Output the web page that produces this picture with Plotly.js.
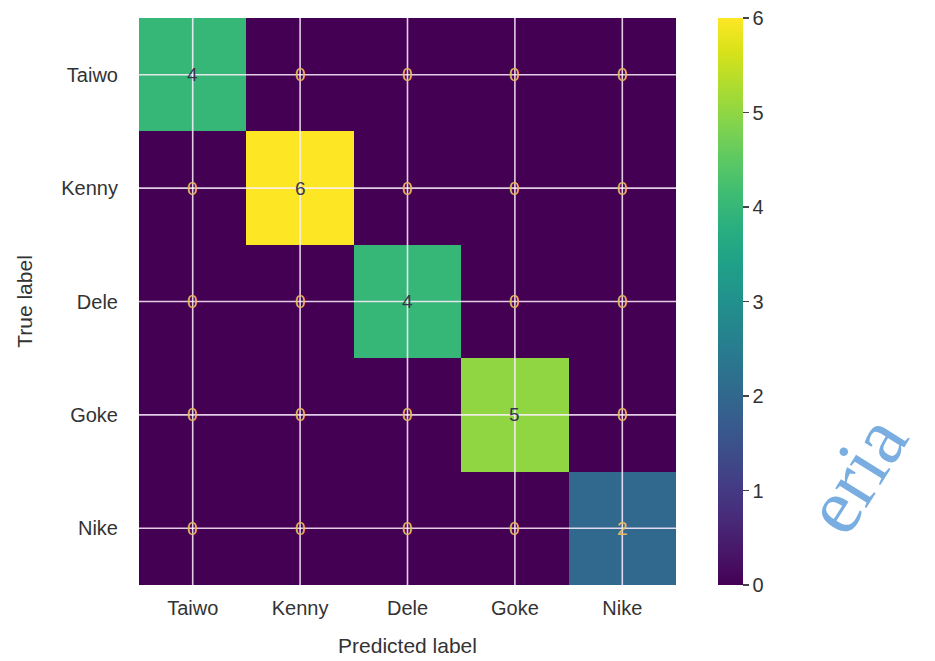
<!DOCTYPE html>
<html>
<head>
<meta charset="utf-8">
<script src="https://cdn.plot.ly/plotly-3.0.1.min.js"></script>
<style>html,body{margin:0;padding:0;background:#fff;}#chart{width:935px;height:661px;}</style>
</head>
<body>
<div id="chart"></div>
<script>
const labels = ["Taiwo", "Kenny", "Dele", "Goke", "Nike"];
const matrix = [
  [4, 0, 0, 0, 0],
  [0, 6, 0, 0, 0],
  [0, 0, 4, 0, 0],
  [0, 0, 0, 5, 0],
  [0, 0, 0, 0, 2]
];
const cbTicks = [0, 1, 2, 3, 4, 5, 6];
const watermark = "eria";

const zmax = Math.max(...matrix.flat());
const thresh = zmax / 2;
const annotations = [];
matrix.forEach((row, i) => {
  row.forEach((v, j) => {
    annotations.push({
      x: labels[j], y: labels[i], xref: 'x', yref: 'y', text: String(v), showarrow: false,
      font: {family: 'Liberation Sans, Arial, sans-serif', size: 19, color: v < thresh ? '#e9b95c' : '#383850'}
    });
  });
});
annotations.push({
  xref: 'paper', yref: 'paper', x: 1.335, y: 0.195, xanchor: 'center', yanchor: 'middle',
  text: watermark, showarrow: false,
  textangle: -58, font: {family: 'Liberation Serif, Times New Roman, serif', size: 80, color: '#7aaee0'}
});

const shapes = [];
labels.forEach(l => {
  shapes.push({type: 'line', xref: 'x', yref: 'paper', x0: l, x1: l, y0: 0, y1: 1, layer: 'above',
    line: {color: 'rgba(255,240,255,0.85)', width: 1.6}});
  shapes.push({type: 'line', xref: 'paper', yref: 'y', x0: 0, x1: 1, y0: l, y1: l, layer: 'above',
    line: {color: 'rgba(255,240,255,0.85)', width: 1.6}});
});

const trace = {
  type: 'heatmap', z: matrix, x: labels, y: labels,
  colorscale: 'Viridis', zmin: 0, zmax: zmax, xgap: 0, ygap: 0,
  hoverinfo: 'skip',
  colorbar: {
    x: 1.078, xanchor: 'left', xref: 'paper', xpad: 0, ypad: 0, y: 0.5, yanchor: 'middle', len: 1, lenmode: 'fraction',
    thickness: 25, outlinewidth: 0, ticks: 'outside', ticklen: 6, tickcolor: '#444', tickwidth: 1.5,
    tickvals: cbTicks, ticktext: cbTicks.map(String),
    tickfont: {family: 'Liberation Sans, Arial, sans-serif', size: 20, color: '#333'}
  }
};

const axisFont = {family: 'Liberation Sans, Arial, sans-serif', size: 20, color: '#333'};
const layout = {
  width: 935, height: 661,
  margin: {l: 139, r: 259, t: 18, b: 76},
  paper_bgcolor: '#fff', plot_bgcolor: '#fff',
  xaxis: {
    type: 'category', showgrid: false, zeroline: false, ticks: '', tickfont: axisFont,
    ticklabelstandoff: 9,
    title: {text: 'Predicted label', font: {family: axisFont.family, size: 21, color: '#333'}, standoff: 20}
  },
  yaxis: {
    type: 'category', autorange: 'reversed', showgrid: false, zeroline: false, ticks: '', tickfont: axisFont,
    ticklabelstandoff: 20,
    title: {text: 'True label', font: {family: axisFont.family, size: 21, color: '#333'}, standoff: 22}
  },
  annotations: annotations,
  shapes: shapes,
  showlegend: false
};

Plotly.newPlot('chart', [trace], layout, {displayModeBar: false, staticPlot: true});
</script>
</body>
</html>
